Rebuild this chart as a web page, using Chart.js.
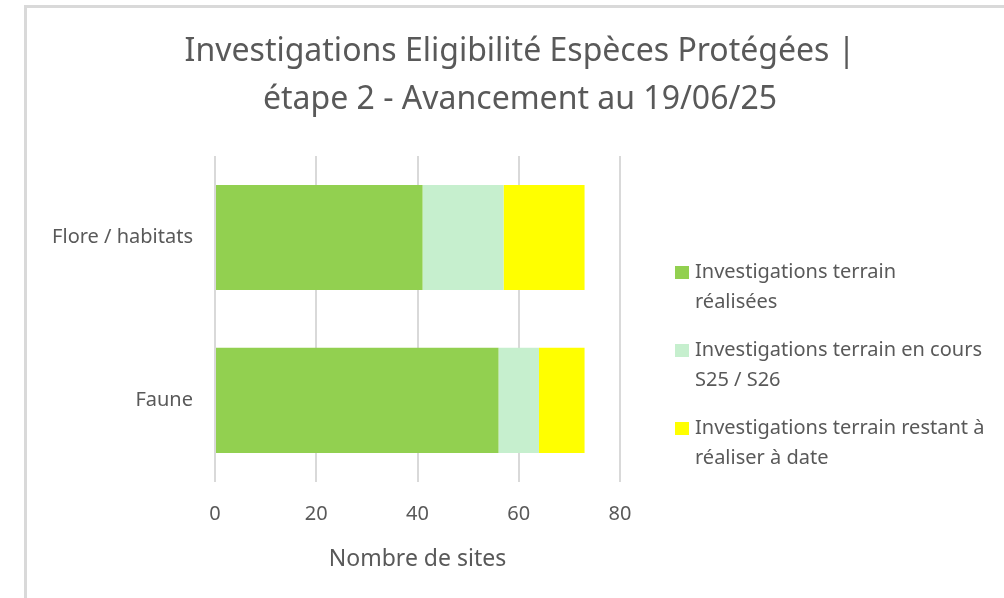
<!DOCTYPE html>
<html>
<head>
<meta charset="utf-8">
<script src="https://cdn.jsdelivr.net/npm/chart.js@4.4.1/dist/chart.umd.min.js"></script>
<style>
  html,body{margin:0;padding:0;background:#fff;overflow:hidden}
  #wrap{position:relative;width:1004px;height:598px}
  #frame{position:absolute;left:24px;top:5px;right:-10px;bottom:-10px;border-left:3px solid #d9d9d9;border-top:3px solid #d9d9d9;pointer-events:none}
</style>
</head>
<body>
<div id="wrap">
  <canvas id="barChart" width="1004" height="598"></canvas>
  <div id="frame"></div>
</div>
<script>
const categories=['Flore / habitats','Faune'];
const realisees=[41,56];
const enCours=[16,8];
const restant=[16,9];
const seriesLabels=[
    ['Investigations terrain','réalisées'],
    ['Investigations terrain en cours','S25 / S26'],
    ['Investigations terrain restant à','réaliser à date']
];
const xTicks=[0,20,40,60,80];
const colors=['#92D050','#C6EFCE','#FFFF00'];
const textColor='#595959';
const fontFam="'Noto Sans', 'DejaVu Sans', sans-serif";

// legend on the right, with wrapped lines like the original
const sideLegend={
    id:'sideLegend',
    afterDraw(chart){
        const ctx=chart.ctx;
        ctx.save();
        ctx.font='20px '+fontFam;
        ctx.fillStyle=textColor;
        ctx.textBaseline='middle';
        let y=272;
        chart.data.datasets.forEach(ds=>{
            ctx.fillStyle=ds.backgroundColor;
            ctx.fillRect(675,y-6,14,13);
            ctx.fillStyle=textColor;
            ds.label.forEach((line,i)=>{
                ctx.fillText(line,695,y+i*30);
            });
            y+=78;
        });
        ctx.restore();
    }
};

const ctx=document.getElementById('barChart').getContext('2d');
new Chart(ctx,{
    type:'bar',
    data:{
        labels:categories,
        datasets:[
            {label:seriesLabels[0],data:realisees,backgroundColor:colors[0]},
            {label:seriesLabels[1],data:enCours,backgroundColor:colors[1]},
            {label:seriesLabels[2],data:restant,backgroundColor:colors[2]}
        ]
    },
    options:{
        indexAxis:'y',
        responsive:false,
        animation:false,
        layout:{padding:{left:36,right:0,top:0,bottom:0}},
        datasets:{bar:{categoryPercentage:1,barPercentage:0.645}},
        scales:{
            x:{
                stacked:true,
                min:0,max:80,
                afterBuildTicks(s){s.ticks=xTicks.map(v=>({value:v}));},
                grid:{color:'#d9d9d9',lineWidth:2,drawTicks:false},
                border:{display:false},
                ticks:{padding:20.5,color:textColor,font:{family:fontFam,size:20}},
                title:{display:true,text:'Nombre de sites',color:textColor,
                    font:{family:fontFam,size:23},padding:{top:-1.5,bottom:25}}
            },
            y:{
                stacked:true,
                grid:{display:false,drawTicks:false},
                border:{display:false},
                ticks:{padding:22,color:textColor,font:{family:fontFam,size:20}},
                afterFit(s){s.width=179;}
            },
            // empty axis that keeps room for the legend on the right
            side:{
                position:'right',
                axis:'y',
                display:true,
                grid:{display:false},
                border:{display:false},
                ticks:{display:false},
                afterFit(s){s.width=384;}
            }
        },
        plugins:{
            legend:{display:false},
            tooltip:{enabled:false},
            title:{
                display:true,
                text:['Investigations Eligibilité Espèces Protégées |','étape 2 - Avancement au 19/06/25'],
                color:textColor,
                font:{family:fontFam,size:32,weight:'normal',lineHeight:1.5},
                padding:{top:28,bottom:32}
            }
        }
    },
    plugins:[sideLegend]
});
</script>
</body>
</html>
